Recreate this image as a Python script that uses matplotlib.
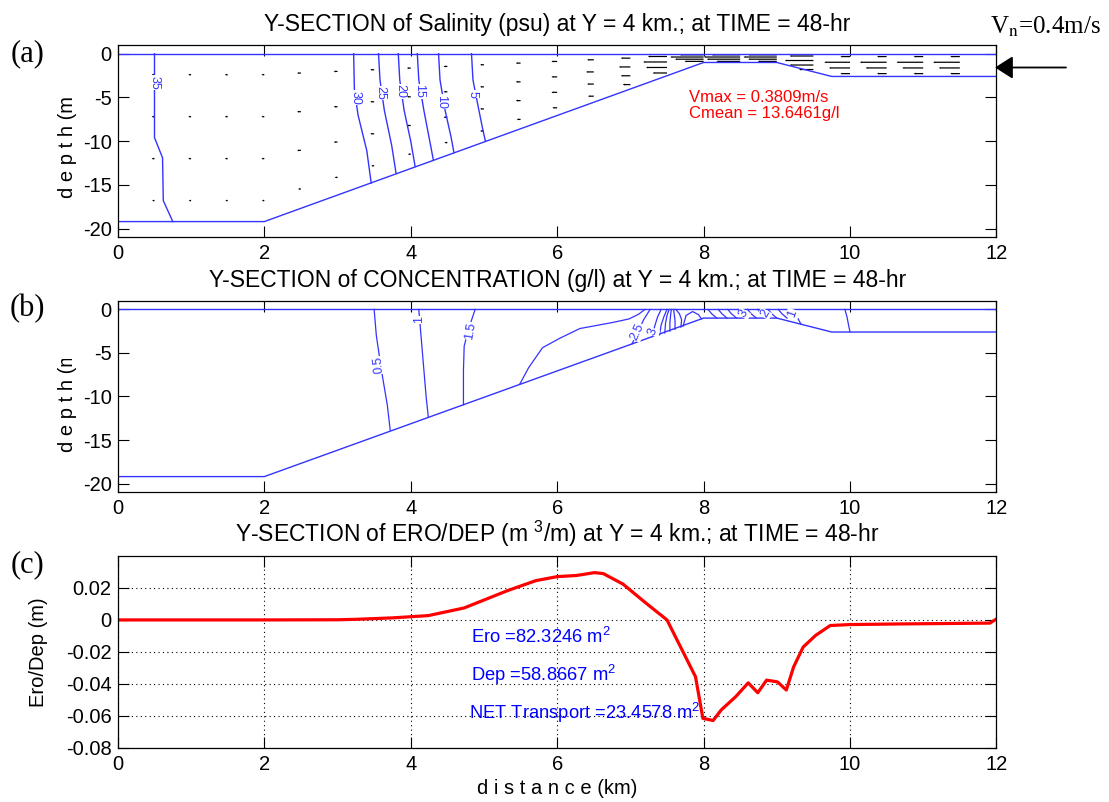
import numpy as np
import matplotlib
matplotlib.use('Agg')
import matplotlib.pyplot as plt
from matplotlib.transforms import Bbox, TransformedBbox

plt.rcParams['font.family'] = ['Liberation Sans', 'DejaVu Sans']
plt.rcParams['mathtext.fontset'] = 'custom'
plt.rcParams['mathtext.rm'] = 'Liberation Sans'
plt.rcParams['axes.unicode_minus'] = False

W, H = 1109, 802
LINE_BLUE = (0.2, 0.2, 1.0)

# ---- bathymetry of the section (km, m)
x_bed = [0, 2, 8, 9, 9.75, 12]
z_bed = [-19.2, -19.2, -1.0, -1.0, -2.6, -2.6]

# ---- velocity vectors (m/s, negative = towards the left), 4 sigma layers
x_vec = [0, 0.5, 1, 1.5, 2, 2.5, 3, 3.5, 4, 4.5, 5, 5.5,
         6, 6.5, 7, 7.5, 8, 8.5, 9, 9.5, 10, 10.5, 11, 11.5]
sigma = [0.125, 0.375, 0.625, 0.875]
u_layer1 = [.03, .03, .03, .03, .03, .04, .04, .04, .04, .04, .04, .05,
            .06, .07, .10, .20, .25, .30, .30, .25, .10, .10, .10, .10]
u_layer2 = [.03, .03, .03, .03, .03, .04, .04, .04, .04, .04, .04, .05,
            .06, .08, .12, .25, .35, .38, .35, .30, .27, .28, .28, .28]
u_layer3 = [.03, .03, .03, .03, .03, .04, .04, .04, .04, .04, .04, .05,
            .06, .07, .10, .22, .30, .35, .30, .25, .22, .22, .22, .22]
u_layer4 = [.025, .025, .025, .025, .025, .03, .03, .03, .03, .03, .04, .04,
            .05, .06, .08, .15, .20, .25, .20, .15, .10, .10, .10, .10]

# ---- salinity contours (psu): polylines read from the section
sal_levels = ['35', '30', '25', '20', '15', '10', '5']
sal_x = [[0.50, 0.50, 0.61, 0.62, 0.75],
         [3.22, 3.23, 3.28, 3.40, 3.46],
         [3.56, 3.58, 3.64, 3.74, 3.80],
         [3.83, 3.85, 3.91, 4.00, 4.06],
         [4.09, 4.11, 4.18, 4.26, 4.31],
         [4.38, 4.40, 4.47, 4.55, 4.59],
         [4.83, 4.85, 4.92, 4.98, 5.02]]
sal_z = [[0, -9.6, -11.9, -16.8, -19.2],
         [0, -4.0, -7.0, -11.1, -14.8],
         [0, -3.0, -6.5, -10.5, -13.7],
         [0, -3.0, -6.5, -10.0, -12.9],
         [0, -3.0, -6.5, -10.0, -12.2],
         [0, -3.0, -6.5, -9.5, -11.3],
         [0, -3.0, -6.0, -8.5, -10.0]]
sal_lab_x = [0.50, 3.24, 3.58, 3.86, 4.11, 4.41, 4.85]
sal_lab_z = [-3.3, -5.0, -4.5, -4.3, -4.3, -5.5, -4.6]

# ---- concentration contours (g/l)
con_x = [[3.50, 3.53, 3.60, 3.68, 3.72],
         [4.11, 4.13, 4.17, 4.21, 4.24],
         [4.88, 4.80, 4.73, 4.72, 4.72],
         [5.49, 5.61, 5.80, 6.04, 6.31, 6.76, 6.98, 7.11, 7.20],
         [7.02, 7.10, 7.18, 7.27],
         [7.30, 7.33, 7.37, 7.42],
         [7.40, 7.42, 7.46, 7.50],
         [7.47, 7.48, 7.50, 7.53],
         [7.54, 7.54, 7.55, 7.56],
         [7.61, 7.61, 7.60, 7.59],
         [7.69, 7.70, 7.67, 7.62],
         [7.72, 7.76, 7.85, 7.93, 7.97],
         [8.06, 8.11, 8.18], [8.20, 8.25, 8.32], [8.33, 8.38, 8.45],
         [8.47, 8.52, 8.59], [8.60, 8.65, 8.72], [8.74, 8.79, 8.86],
         [8.88, 8.93, 9.00], [9.02, 9.07, 9.14],
         [9.18, 9.26, 9.33],
         [9.93, 9.96, 9.98, 10.0]]
con_z = [[0, -3.0, -7.0, -11.0, -13.9],
         [0, -2.0, -6.0, -10.0, -12.35],
         [0, -2.0, -4.2, -7.0, -10.95],
         [-8.57, -6.7, -4.4, -3.3, -2.2, -1.5, -1.1, -0.57, 0],
         [-3.98, -2.7, -1.2, 0],
         [-3.13, -2.0, -0.9, 0],
         [-2.92, -1.8, -0.8, 0],
         [-2.71, -1.6, -0.7, 0],
         [-2.50, -1.5, -0.6, 0],
         [-2.29, -1.3, -0.6, 0],
         [-2.05, -1.2, -0.5, 0],
         [-1.95, -0.7, -0.25, -0.6, -1.09],
         [0, -0.5, -1.0], [0, -0.5, -1.0], [0, -0.5, -1.0],
         [0, -0.5, -1.0], [0, -0.5, -1.0], [0, -0.5, -1.0],
         [0, -0.5, -1.0], [0, -0.5, -1.0],
         [0, -0.6, -1.7],
         [0, -0.9, -1.8, -2.6]]
con_labels = ['0.5', '1', '1.5', '2.5', '3', '3', '2', '1']
con_lab_x = [3.57, 4.12, 4.82, 7.10, 7.31, 8.55, 8.84, 9.22]
con_lab_z = [-6.4, -1.2, -2.5, -2.6, -2.6, -0.5, -0.5, -0.45]
con_lab_rot = [95, 90, 80, 65, 70, 60, 60, 70]

# ---- erosion / deposition along the section
x_ed = [0, 1, 2, 3, 3.27, 3.76, 4.24, 4.73, 5.32, 5.71, 6.0, 6.26, 6.51,
        6.63, 6.9, 7.2, 7.5, 7.89, 7.99, 8.13, 8.24, 8.44, 8.61, 8.74,
        8.86, 9.01, 9.13, 9.23, 9.36, 9.53, 9.73, 10.0, 10.72, 11.91, 12.0]
ero_dep = [0, 0, 0, 0.0001, 0.0004, 0.0013, 0.0027, 0.0075, 0.0183,
           0.0246, 0.0271, 0.0278, 0.0296, 0.029, 0.0224, 0.011, 0.0,
           -0.0356, -0.0616, -0.063, -0.0564, -0.048, -0.0394, -0.0456,
           -0.0377, -0.0388, -0.0439, -0.0294, -0.017, -0.0097, -0.0035,
           -0.0029, -0.0025, -0.002, 0.0006]

title_a = 'Y-SECTION of Salinity (psu) at Y = 4 km.; at TIME = 48-hr'
title_b = 'Y-SECTION of CONCENTRATION (g/l) at Y = 4 km.; at TIME = 48-hr'
title_c = 'Y-SECTION of ERO/DEP (m $^\\mathrm{3}$/m) at Y = 4 km.; at TIME = 48-hr'

FS_TICK = 14.5
FS_TITLE = 16.5


def style_axes(ax):
    ax.set_xlim(0, 12)
    ax.set_xticks(range(0, 13, 2))
    ax.tick_params(direction='in', length=8, width=0.8, top=True, right=True,
                   labelsize=FS_TICK)
    ax.tick_params(axis='x', pad=5)
    ax.tick_params(axis='y', pad=4.5)
    for s in ax.spines.values():
        s.set_linewidth(0.9)


def section_frame(ax):
    ax.plot([0, 12], [0, 0], color=LINE_BLUE, lw=1.0)
    ax.plot(x_bed, z_bed, color=LINE_BLUE, lw=1.0)
    ax.set_ylim(-21, 1)
    ax.set_yticks([-20, -15, -10, -5, 0])
    style_axes(ax)


def contour_label(ax, x, z, s, rot):
    ax.text(x, z, s, color=LINE_BLUE, fontsize=9, rotation=rot,
            ha='center', va='center', rotation_mode='anchor',
            bbox=dict(facecolor='white', edgecolor='none', pad=0.3))


fig = plt.figure(figsize=(W / 100, H / 100), dpi=100)
left, width = 0.1063, 0.7922
ax1 = fig.add_axes([left, 0.7041, width, 0.2398])
ax2 = fig.add_axes([left, 0.3862, width, 0.2389])
ax3 = fig.add_axes([left, 0.0677, width, 0.2390])

# (a) salinity + velocity
section_frame(ax1)
for xs, zs in zip(sal_x, sal_z):
    ax1.plot(xs, zs, color=LINE_BLUE, lw=1.0)
for lx, lz, s in zip(sal_lab_x, sal_lab_z, sal_levels):
    contour_label(ax1, lx, lz, s, -90)

depth = -np.interp(x_vec, x_bed, z_bed)
u_all = [u_layer1, u_layer2, u_layer3, u_layer4]
for sg, u in zip(sigma, u_all):
    ax1.quiver(x_vec, -sg * depth, -np.array(u), np.zeros(len(u)),
               angles='xy', scale_units='xy', scale=0.77, pivot='tail',
               color='k', width=0.0014, headwidth=1.6, headlength=1.5,
               headaxislength=1.5, minlength=0.8)

ax1.text(7.80, -5.05, 'Vmax = 0.3809m/s', color='red', fontsize=12,
         va='center')
ax1.text(7.80, -6.87, 'Cmean = 13.6461g/l', color='red', fontsize=12,
         va='center')
ax1.set_title(title_a, fontsize=FS_TITLE, pad=10)
ax1.set_ylabel('d e p t h (m', fontsize=FS_TICK)
ax1.yaxis.set_label_coords(-0.047, 0.47)

# (b) concentration
section_frame(ax2)
for xs, zs in zip(con_x, con_z):
    ax2.plot(xs, zs, color=LINE_BLUE, lw=0.9)
for lx, lz, s, r in zip(con_lab_x, con_lab_z, con_labels, con_lab_rot):
    contour_label(ax2, lx, lz, s, r)
ax2.set_title(title_b, fontsize=FS_TITLE, pad=10)
ax2.set_ylabel('d e p t h (m', fontsize=FS_TICK)
ax2.yaxis.set_label_coords(-0.047, 0.475)
lab = ax2.yaxis.label
lab.set_clip_box(TransformedBbox(Bbox.from_extents(0, 0, 1, 1 - 359 / H),
                                 fig.transFigure))
lab.set_clip_on(True)

# (c) erosion / deposition
ax3.plot(x_ed, ero_dep, color='red', lw=2.3)
ax3.set_ylim(-0.08, 0.04)
ax3.set_yticks([-0.08, -0.06, -0.04, -0.02, 0, 0.02])
ax3.set_yticklabels(['-0.08', '-0.06', '-0.04', '-0.02', '0', '0.02'])
style_axes(ax3)
ax3.grid(True, color='k', linestyle=(0, (1, 3)), linewidth=0.8)
ax3.text(4.82, -0.0104, 'Ero =82.3246 m$^\\mathrm{2}$', color='blue',
         fontsize=13.2, va='center')
ax3.text(4.82, -0.0342, 'Dep =58.8667 m$^\\mathrm{2}$', color='blue',
         fontsize=13.2, va='center')
ax3.text(4.80, -0.0581, 'NET Transport =23.4578 m$^\\mathrm{2}$',
         color='blue', fontsize=13.2, va='center')
ax3.set_title(title_c, fontsize=FS_TITLE, pad=10)
ax3.set_ylabel('Ero/Dep (m)', fontsize=FS_TICK)
ax3.yaxis.set_label_coords(-0.08, 0.5)
ax3.set_xlabel('d i s t a n c e (km)', fontsize=FS_TICK, labelpad=4)

# panel letters and inflow annotation
for lbl, yc in zip(['(a)', '(b)', '(c)'], [54, 309, 565]):
    fig.text(27.5 / W, 1 - yc / H, lbl, family='Liberation Serif',
             fontsize=22, ha='center', va='center')

fig.text(990 / W, 1 - 33.3 / H, 'V$_\\mathrm{n}$=0.4m/s',
         family='Liberation Serif', math_fontfamily='stix', fontsize=18,
         ha='left', va='baseline')
ax1.annotate('', xy=(995 / W, 1 - 67.5 / H), xytext=(1066 / W, 1 - 67.5 / H),
             xycoords='figure fraction', textcoords='figure fraction',
             arrowprops=dict(arrowstyle='-|>,head_length=0.55,head_width=0.35',
                             mutation_scale=20, color='k', lw=1.3,
                             shrinkA=0, shrinkB=0),
             annotation_clip=False)

fig.savefig('out.png', dpi=100)
